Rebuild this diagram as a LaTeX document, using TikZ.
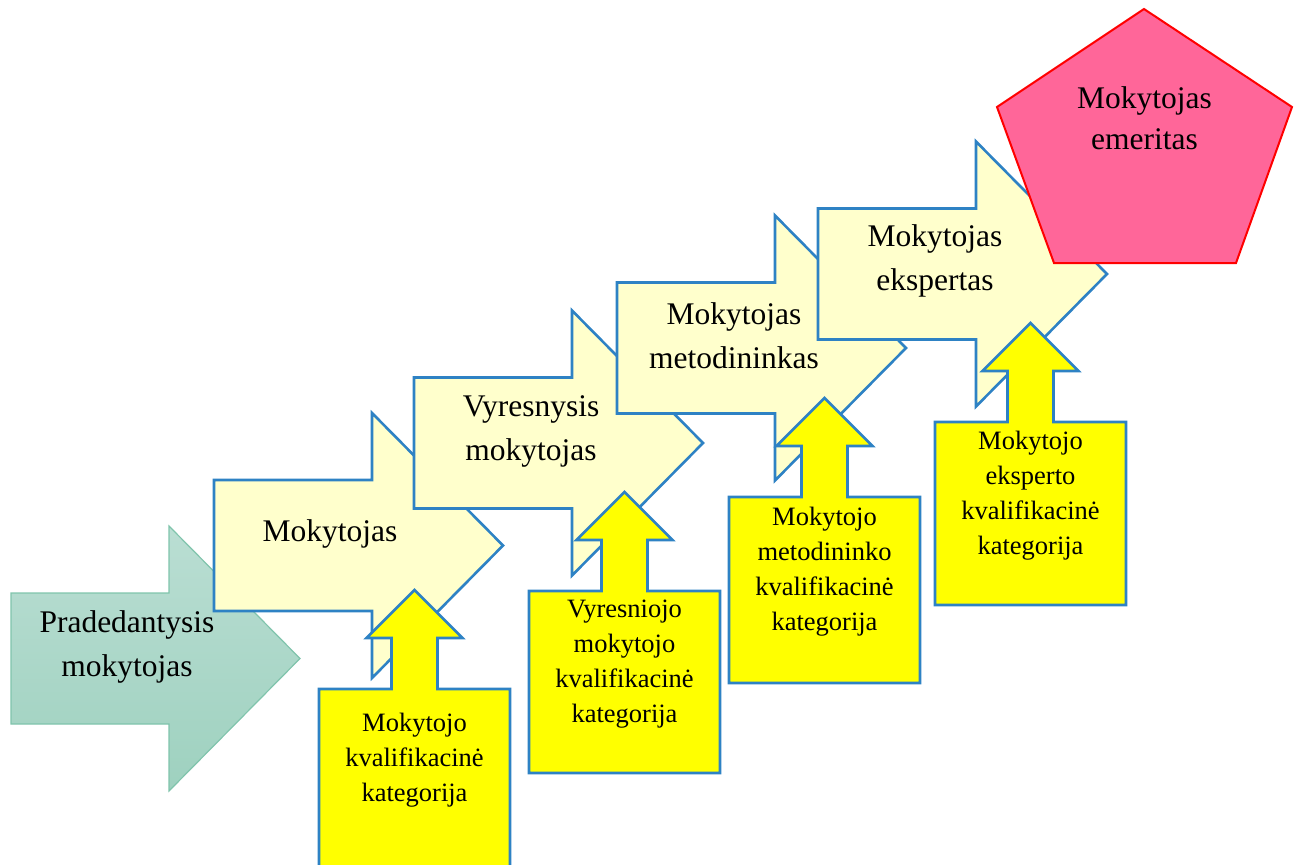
\documentclass[tikz,border=0pt]{standalone}
\usepackage{fontspec}
\setmainfont{Liberation Serif}
\definecolor{lblue}{RGB}{46,130,196}
\definecolor{paleyel}{RGB}{255,255,204}
\definecolor{brightyel}{RGB}{255,255,0}
\definecolor{pinkfill}{RGB}{255,102,153}
\definecolor{pinkline}{RGB}{255,0,0}
\definecolor{greentop}{RGB}{186,222,211}
\definecolor{greenbot}{RGB}{158,209,191}
\definecolor{greenline}{RGB}{128,196,172}
\tikzset{
  stepshape/.style={draw=lblue, line width=2.6pt, fill=paleyel, line join=miter},
  startshape/.style={draw=greenline, line width=1.2pt, top color=greentop, bottom color=greenbot, line join=miter},
  upshape/.style={draw=lblue, line width=2.6pt, fill=brightyel, line join=miter},
  pentshape/.style={draw=pinkline, line width=2pt, fill=pinkfill, line join=miter},
  biglbl/.style={inner sep=0pt, align=center, font=\fontsize{31.5}{44}\selectfont},
  smalllbl/.style={inner sep=0pt, align=center, font=\fontsize{26.5}{35}\selectfont},
}
% right-pointing step arrow: left x, centre y, style
\newcommand{\steparrow}[3]{%
  \draw[#3] (#1,#2-65.5) -- (#1+158,#2-65.5) -- (#1+158,#2-132.5) -- (#1+289,#2)
    -- (#1+158,#2+132.5) -- (#1+158,#2+65.5) -- (#1,#2+65.5) -- cycle;}
% box with an up arrow: left x, top y, box height
\newcommand{\uparrowbox}[3]{%
  \draw[upshape] (#1,#2) -- (#1+72.5,#2) -- (#1+72.5,#2-51) -- (#1+47.5,#2-51)
    -- (#1+95.5,#2-99) -- (#1+143.5,#2-51) -- (#1+118.5,#2-51) -- (#1+118.5,#2)
    -- (#1+191,#2) -- (#1+191,#2+#3) -- (#1,#2+#3) -- cycle;}
\begin{document}
\begin{tikzpicture}[x=1pt,y=-1pt]
\useasboundingbox (0,0) rectangle (1294,865);
\clip (0,0) rectangle (1294,865);

\steparrow{11}{658.5}{startshape}
\node[biglbl] (pm) at (11+116,658.5-12) {Pradedantysis\\mokytojas};

\steparrow{214}{545.5}{stepshape}
\node[biglbl] (m1) at (214+116,545.5-12) {Mokytojas};

\steparrow{414}{443}{stepshape}
\node[biglbl] (m2) at (414+117,443-12) {Vyresnysis\\mokytojas};

\steparrow{617}{348}{stepshape}
\node[biglbl] (m3) at (617+117,348-12) {Mokytojas\\metodininkas};

\steparrow{818}{274}{stepshape}
\node[biglbl] (m4) at (818+117,274-13) {Mokytojas\\ekspertas};

\draw[pentshape] (1144,9) -- (1292,107) -- (1236,263) -- (1054,263) -- (997,107) -- cycle;
\node[biglbl, font=\fontsize{31.5}{41}\selectfont] (em) at (1144.5,118) {Mokytojas\\emeritas};

\uparrowbox{319}{689}{200}
\node[smalllbl] (k1) at (414.5,689+71) {Mokytojo\\kvalifikacinė\\kategorija};

\uparrowbox{529}{591}{182}
\node[smalllbl] (k2) at (624.5,591+73.5) {Vyresniojo\\mokytojo\\kvalifikacinė\\kategorija};

\uparrowbox{729}{497}{186}
\node[smalllbl] (k3) at (824.5,497+75) {Mokytojo\\metodininko\\kvalifikacinė\\kategorija};

\uparrowbox{935}{422}{183}
\node[smalllbl] (k4) at (1030.5,422+73.5) {Mokytojo\\eksperto\\kvalifikacinė\\kategorija};
\end{tikzpicture}
\end{document}
